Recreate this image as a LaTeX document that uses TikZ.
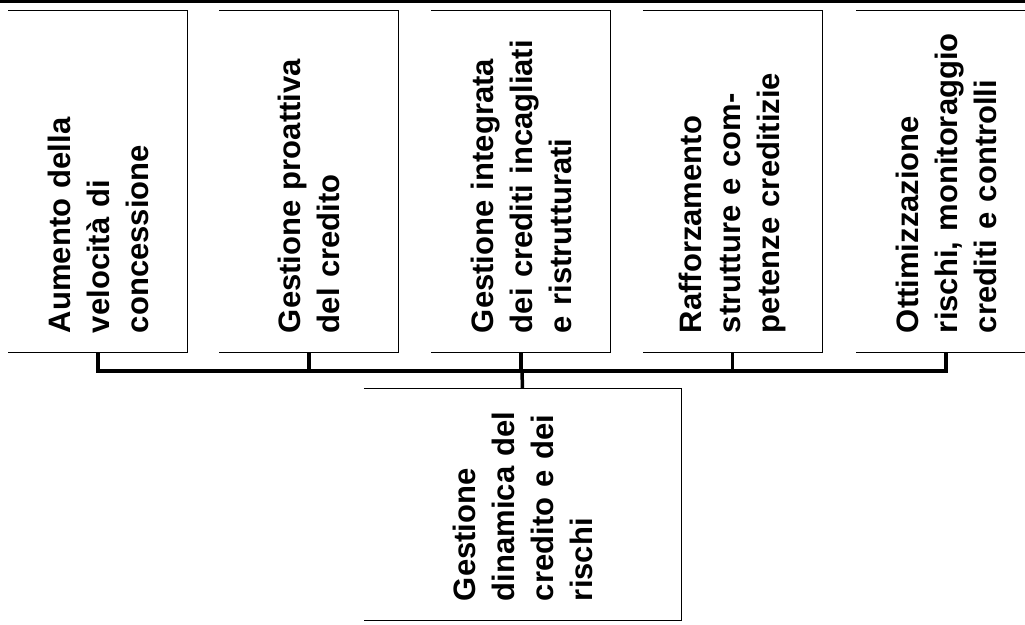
\documentclass[tikz,border=0pt]{standalone}
\usepackage{fontspec}
\setmainfont{Liberation Sans}
\usetikzlibrary{positioning,calc}

\begin{document}
\begin{tikzpicture}[
    x=1pt, y=-1pt,
    box/.style={rectangle, rotate=90, inner xsep=19pt, inner ysep=0pt,
                align=left, font=\bfseries\fontsize{31}{39}\selectfont},
    topbox/.style={box, text width=303pt, minimum height=179pt},
    basebox/.style={box, text width=193pt, minimum height=317pt},
    edge/.style={draw, line width=1pt},
    stub/.style={draw, line width=3.5pt},
    bus/.style={draw, line width=4.5pt}
]
\useasboundingbox (0,0) rectangle (1025,624);
\clip (0,0) rectangle (1025,624);

% top border of the page
\draw[line width=3pt] (0,1.5) -- (1025,1.5);

% Goal boxes (top row)
\node[topbox] (velocita) at (98,181.5) {Aumento della\\velocità di\\concessione};
\node[topbox] (proattiva) at (309,181.5) {Gestione proattiva\\del credito};
\node[topbox] (incagliati) at (521,181.5) {Gestione integrata\\dei crediti incagliati\\e ristrutturati};
\node[topbox] (strutture) at (732.5,181.5) {Rafforzamento\\strutture e com-\\petenze creditizie};
\node[topbox] (controlli) at (946,181.5) {Ottimizzazione\\rischi, monitoraggio\\crediti e controlli};

% Main box (bottom)
\node[basebox] (dinamica) at (522.5,504.5) {Gestione\\dinamica del\\credito e dei\\rischi};

% Box frames: top, right and bottom sides only
% (rotated nodes: north east = top left, south east = top right, south west = bottom right)
\foreach \b in {velocita,proattiva,incagliati,strutture,controlli,dinamica}
  \draw[edge] (\b.north east) -- (\b.south east) -- (\b.south west) -- (\b.north west);

% Bus line
\coordinate (hub) at (522,371);
\draw[bus] ([xshift=-1.75pt]velocita.west |- hub) -- ([xshift=1.75pt]controlli.west |- hub);

% Stubs from the boxes to the bus
\foreach \b in {velocita,proattiva,incagliati,strutture,controlli}
  \draw[stub] (\b.west) -- (\b.west |- hub);
\draw[stub] (hub) -- (dinamica.east);

\end{tikzpicture}
\end{document}
